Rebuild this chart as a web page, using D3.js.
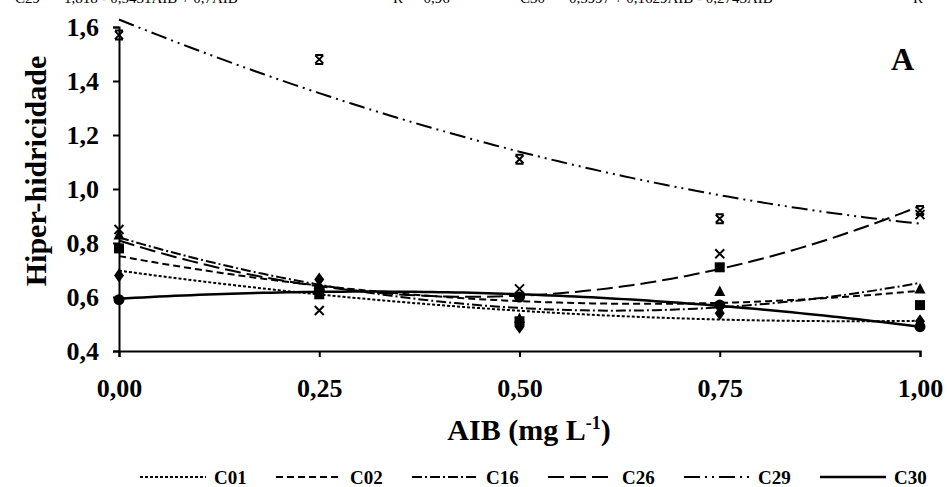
<!DOCTYPE html>
<html>
<head>
<meta charset="utf-8">
<script src="https://cdn.jsdelivr.net/npm/d3@7"></script>
<style>
    body { margin: 0; background: #fff; }
    svg { display: block; font-family: "Liberation Serif", "Times New Roman", serif; }
    .axis path, .axis line { stroke: #000; stroke-width: 2; }
    .axis text { font-size: 26px; font-weight: bold; fill: #000; font-family: "Liberation Serif", serif; }
</style>
</head>
<body>
<div id="chart"></div>
<script>

// AIB doses (mg/L) and hyperhydricity per clone
let doses = [0, 0.25, 0.5, 0.75, 1];
let xTicks = [0, 0.25, 0.5, 0.75, 1];
let yTicks = [0.4, 0.6, 0.8, 1.0, 1.2, 1.4, 1.6];

let seriesNames = ["C01", "C02", "C16", "C26", "C29", "C30"];
let c01 = [0.68, 0.665, 0.49, 0.54, 0.51];
let c02 = [0.78, 0.61, 0.51, 0.71, 0.57];
let c16 = [0.83, 0.64, 0.52, 0.62, 0.63];
let c26 = [0.85, 0.55, 0.63, 0.76, 0.905];
let c29 = [1.57, 1.48, 1.11, 0.89, 0.92];
let c30 = [0.59, 0.63, 0.60, 0.57, 0.49];

let markers = ["diamond", "square", "triangle", "times", "star", "circle"];
let dashes = ["3,2", "7,4", "10,3,2,3", "16,6", "16,5,2,5,2,5", null];

let series = [c01, c02, c16, c26, c29, c30].map((vals, i) => ({
    name: seriesNames[i],
    values: vals,
    marker: markers[i],
    dash: dashes[i]
}));

// quadratic least squares fit (Excel polynomial trendline, order 2)
function polyFit(xs, ys) {
    let n = xs.length;
    let mx = d3.mean(xs);
    let t = xs.map(x => x - mx);
    let t2 = t.map(v => v * v);
    let m2 = d3.mean(t2);
    let my = d3.mean(ys);
    let b = d3.sum(t, (v, i) => v * ys[i]) / d3.sum(t2);
    let c = d3.sum(t2, (v, i) => (v - m2) * ys[i]) / d3.sum(t2, v => (v - m2) * (v - m2));
    let a = my - c * m2;
    return x => a + b * (x - mx) + c * (x - mx) * (x - mx);
}

let svg = d3.select("#chart").append("svg")
    .attr("width", 947)
    .attr("height", 487);

let x = d3.scaleLinear().domain([0, 1]).range([119, 920]);
let y = d3.scaleLinear().domain([0.4, 1.6]).range([351, 27]);

let comma = (v, k) => v.toFixed(k).replace(".", ",");

// equation text at the top (cut off in the original)
let eqGroup = svg.append("g")
    .attr("font-size", "15px")
    .attr("fill", "#000");
[["C29", 15], ["1,818 - 0,5431AIB + 0,7AIB²", 64], ["R² = 0,96", 393], ["C30", 520],
 ["0,5997 + 0,1629AIB - 0,2743AIB²", 569], ["R²", 913]].forEach(d => {
    eqGroup.append("text").attr("x", d[1]).attr("y", 3).text(d[0]);
});

// axes
svg.append("g")
    .attr("class", "axis")
    .attr("transform", "translate(0," + y(0.4) + ")")
    .call(d3.axisBottom(x).tickValues(xTicks).tickSize(6).tickPadding(22)
        .tickFormat(d => comma(d, 2)));

svg.append("g")
    .attr("class", "axis")
    .attr("transform", "translate(" + x(0) + ",0)")
    .call(d3.axisLeft(y).tickValues(yTicks).tickSize(6).tickPadding(14)
        .tickFormat(d => comma(d, 1)));

svg.selectAll(".axis .domain").attr("stroke-width", 2.5);

// axis titles
let xTitle = svg.append("text")
    .attr("x", 529)
    .attr("y", 440)
    .attr("text-anchor", "middle")
    .attr("font-size", "30px")
    .attr("font-weight", "bold");
xTitle.append("tspan").text("AIB (mg L");
xTitle.append("tspan").attr("font-size", "18px").attr("dy", "-11").text("-1");
xTitle.append("tspan").attr("dy", "11").text(")");

svg.append("text")
    .attr("transform", "translate(46,171) rotate(-90)")
    .attr("text-anchor", "middle")
    .attr("font-size", "30px")
    .attr("font-weight", "bold")
    .text("Hiper-hidricidade");

svg.append("text")
    .attr("x", 891)
    .attr("y", 70)
    .attr("font-size", "32px")
    .attr("font-weight", "bold")
    .text("A");

// trend lines
let samples = d3.range(0, 1.0001, 0.01);
let line = d3.line()
    .x(d => x(d[0]))
    .y(d => y(d[1]));

series.forEach(s => {
    let f = polyFit(doses, s.values);
    s.fit = f;
    svg.append("path")
        .datum(samples.map(v => [v, f(v)]))
        .attr("d", line)
        .attr("fill", "none")
        .attr("stroke", "#000")
        .attr("stroke-width", s.dash ? 2 : 2.5)
        .attr("stroke-dasharray", s.dash);
});

// markers
function markerPath(type) {
    if (type === "diamond") return "M0,-7L5,0L0,7L-5,0Z";
    if (type === "square") return "M-5,-5H5V5H-5Z";
    if (type === "triangle") return "M0,-6L5.5,4.5H-5.5Z";
    if (type === "circle") return d3.symbol(d3.symbolCircle, 95)();
    if (type === "times") return "M-4.5,-4.5L4.5,4.5M4.5,-4.5L-4.5,4.5";
    return "M-4,-4L4,4M4,-4L-4,4M-4,-4.5H4M-4,4.5H4";
}

series.forEach(s => {
    let stroked = s.marker === "times" || s.marker === "star";
    svg.append("g").selectAll("path")
        .data(s.values)
        .join("path")
        .attr("transform", (d, i) => "translate(" + x(doses[i]) + "," + y(d) + ")")
        .attr("d", markerPath(s.marker))
        .attr("fill", stroked ? "none" : "#000")
        .attr("stroke", "#000")
        .attr("stroke-width", stroked ? 2 : 0);
});

// legend
let legend = svg.append("g")
    .selectAll("g")
    .data(series)
    .join("g")
    .attr("transform", (d, i) => "translate(" + (140 + i * 136) + ",477)");

legend.append("line")
    .attr("x1", 0)
    .attr("x2", 66)
    .attr("stroke", "#000")
    .attr("stroke-width", d => d.dash ? 2 : 2.5)
    .attr("stroke-dasharray", d => d.dash);

legend.append("text")
    .attr("x", 74)
    .attr("y", 7)
    .attr("font-size", "19px")
    .attr("font-weight", "bold")
    .text(d => d.name);

</script>
</body>
</html>
